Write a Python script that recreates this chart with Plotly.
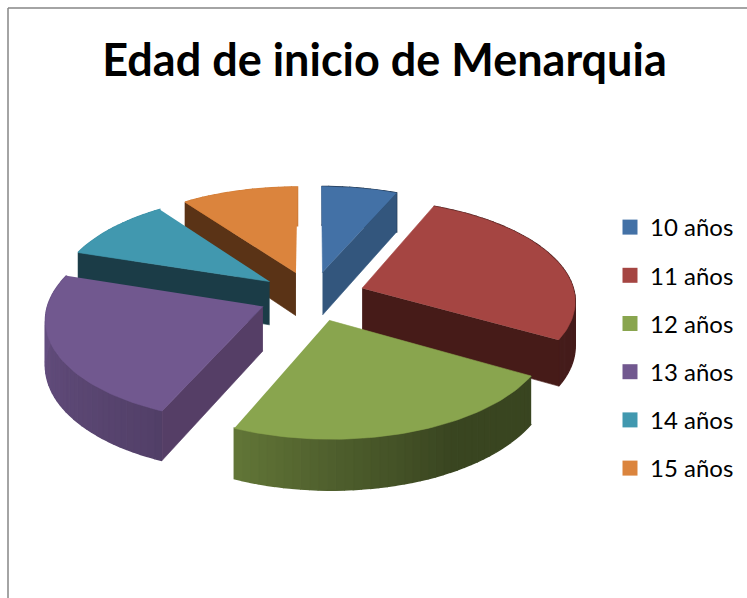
import numpy as np
import plotly.graph_objects as go

# ----------------- datos -----------------
categories = ['10 años', '11 años', '12 años', '13 años', '14 años', '15 años']
values = [6.5, 26.8, 23.2, 23.5, 10, 10]
top_colors = ['#4371A6', '#A54542', '#89A54E', '#71588F', '#4198AF', '#DB843D']
wall_colors = ['#33567D', '#461B18', '#3A4519', '#553E66', '#1B3C47', '#5A3316']
title_text = 'Edad de inicio de Menarquia'

# ----------------- proyección del pastel -----------------
CX, CY = 312, 296
A, B = 213, 100      # semiejes en px
PERSP = 0.11
DEPTH = 44           # alto del pastel
EXPLODE = 0.25
W, H = 747, 598


def project(u, v, z=0.0):
    w = 1 - PERSP * v
    return CX + A * u / w, CY + B * v / w + z * DEPTH / w


def disc(theta, r, mid):
    # theta en grados, sentido horario desde arriba; v positivo hacia el espectador
    t, m = np.radians(theta), np.radians(mid)
    return EXPLODE * np.sin(m) + r * np.sin(t), -EXPLODE * np.cos(m) - r * np.cos(t)


def shade(color, f):
    rgb = [int(color[i:i + 2], 16) for i in (1, 3, 5)]
    return 'rgb({},{},{})'.format(*[int(c * f) for c in rgb])


def poly(xs, ys, color, width=0.6):
    return go.Scatter(x=xs, y=ys, mode='lines', fill='toself', fillcolor=color,
                      line=dict(color=color, width=width), showlegend=False, hoverinfo='skip')


def wall_factor(theta):
    return np.interp(theta, [113, 150, 180, 207, 287], [0.42, 0.42, 0.58, 0.74, 0.95])


fig = go.Figure()

edges = np.cumsum([0] + values) / sum(values) * 360
mids = (edges[:-1] + edges[1:]) / 2
# de atrás hacia adelante
order = sorted(range(len(values)), key=lambda i: -np.cos(np.radians(mids[i])) )
for i in order:
    t0, t1, mid = edges[i], edges[i + 1], mids[i]
    thetas = np.linspace(t0, t1, max(int(t1 - t0) // 2, 3) + 1)

    # pared exterior con degradado
    for a, b in zip(thetas[:-1], thetas[1:]):
        ua, va = disc(a, 1, mid)
        ub, vb = disc(b, 1, mid)
        p = [project(ua, va), project(ub, vb), project(ub, vb, 1), project(ua, va, 1)]
        fig.add_trace(poly([q[0] for q in p], [q[1] for q in p],
                           shade(top_colors[i], wall_factor((a + b) / 2)), width=1.5))

    # paredes radiales que miran al frente
    for t, normal in ((t0, t0 - 90), (t1, t1 + 90)):
        if np.cos(np.radians(normal)) < 0:
            uc, vc = disc(0, 0, mid)
            ue, ve = disc(t, 1, mid)
            p = [project(uc, vc), project(ue, ve), project(ue, ve, 1), project(uc, vc, 1)]
            fig.add_trace(poly([q[0] for q in p], [q[1] for q in p], wall_colors[i]))

    # cara superior
    uc, vc = disc(0, 0, mid)
    rim = np.linspace(t0, t1, 60)
    top = [project(uc, vc)] + [project(*disc(t, 1, mid)) for t in rim]
    fig.add_trace(poly([q[0] for q in top], [q[1] for q in top], top_colors[i]))

# leyenda
for i, name in enumerate(categories):
    fig.add_trace(go.Scatter(x=[None], y=[None], mode='markers', name=name, legendgroup=name,
                             marker=dict(symbol='square', size=15, color=top_colors[i])))

fig.update_layout(
    width=W, height=H, margin=dict(l=0, r=0, t=0, b=0),
    paper_bgcolor='white', plot_bgcolor='white',
    font=dict(family='Lato', color='black'),
    title=dict(text='<b>' + title_text + '</b>', x=384.5 / W, xanchor='center', xref='paper',
               y=1 - 60 / H, yanchor='middle', yref='container', font=dict(size=45, family='Lato')),
    xaxis=dict(range=[0, W], visible=False, fixedrange=True),
    yaxis=dict(range=[H, 0], visible=False, fixedrange=True),
    legend=dict(x=610 / W, xanchor='left', y=1 - 205 / H, yanchor='top', tracegroupgap=14,
                font=dict(size=24, family='Lato'), bgcolor='rgba(0,0,0,0)'),
    shapes=[
        dict(type='line', xref='x', yref='y', x0=8, x1=8, y0=8, y1=H, line=dict(color='#868686', width=1.5)),
        dict(type='line', xref='x', yref='y', x0=8, x1=W, y0=8, y1=8, line=dict(color='#868686', width=1.5)),
    ],
)

# sin el margen por defecto del body
fig.write_html("out.html", post_script="document.body.style.margin='0';",
               config=dict(displayModeBar=False))
